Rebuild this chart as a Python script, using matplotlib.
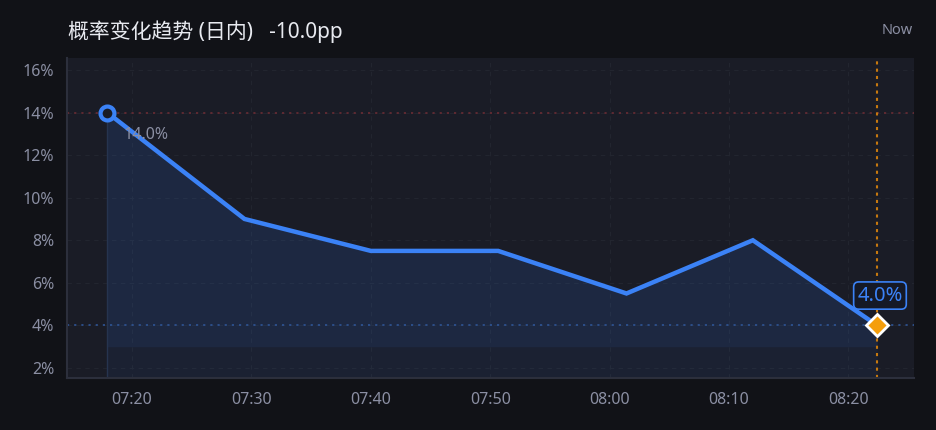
import matplotlib
matplotlib.use("Agg")
import matplotlib.pyplot as plt
from matplotlib.ticker import FixedLocator, FuncFormatter

plt.rcParams["font.family"] = ["Noto Sans", "Noto Sans CJK SC", "DejaVu Sans"]

# data
TIMES = ["07:17:55", "07:29:25", "07:40:00", "07:50:40", "08:01:25", "08:12:00", "08:22:25"]
PROB = [14.0, 9.0, 7.5, 7.5, 5.5, 8.0, 4.0]
X_TICKS = ["07:20", "07:30", "07:40", "07:50", "08:00", "08:10", "08:20"]
Y_TICKS = [2, 4, 6, 8, 10, 12, 14, 16]
TITLE = "概率变化趋势 (日内)   -10.0pp"

FIG_BG = "#111217"
AX_BG = "#1a1c26"
BLUE = "#3b82f6"
ORANGE = "#f59e0b"
MUTED = "#8b8fa3"


def to_min(s):
    parts = [int(p) for p in s.split(":")]
    while len(parts) < 3:
        parts.append(0)
    return parts[0] * 60 + parts[1] + parts[2] / 60.0


x = [to_min(t) for t in TIMES]
xt = [to_min(t) for t in X_TICKS]

fig = plt.figure(figsize=(9.36, 4.3), dpi=100, facecolor=FIG_BG)
ax = fig.add_axes([67 / 936, 52 / 430, 847 / 936, 320 / 430])
ax.set_facecolor(AX_BG)

ymin, ymax = 1.53, 16.56
ax.set_xlim(to_min("07:14:33"), to_min("08:25:30"))
ax.set_ylim(ymin, ymax)

# grid
for v in Y_TICKS:
    ax.axhline(v, color="#22252f", lw=0.8, ls=(0, (4, 4)), zorder=0)
for v in xt:
    ax.axvline(v, color="#22252f", lw=0.8, ls=(0, (4, 4)), zorder=0)

# area under the line
ax.fill_between(x, PROB, ymin, color=BLUE, alpha=0.06, lw=0, zorder=1)
ax.fill_between(x, PROB, 3.0, color=BLUE, alpha=0.08, lw=0, zorder=1)
ax.plot([x[0], x[0]], [ymin, PROB[0]], color="#26344f", lw=1, zorder=1)

# reference lines
ax.axhline(PROB[0], color="#6a2c34", lw=1.2, ls=(0, (1.3, 3)), zorder=2)
ax.axhline(PROB[-1], color="#2f5596", lw=1.2, ls=(0, (1.3, 3)), zorder=2)
ax.axvline(x[-1], color="#c7790f", lw=1.5, ls=(0, (1.5, 2)), zorder=2)

ax.plot(x, PROB, color=BLUE, lw=3.2, solid_joinstyle="miter", zorder=3)
ax.plot(x[0], PROB[0], "o", ms=10, mfc=AX_BG, mec=BLUE, mew=3, zorder=4)
ax.plot(x[-1], PROB[-1], "D", ms=11, mfc=ORANGE, mec="white", mew=2, zorder=5)

ax.annotate(f"{PROB[0]:.1f}%", (x[0], PROB[0]), xytext=(12, -16),
            textcoords="offset points", color=MUTED, fontsize=11.5,
            ha="left", va="center", zorder=3)
ax.annotate(f"{PROB[-1]:.1f}%", (x[-1], PROB[-1]), xytext=(2, 21.5),
            textcoords="offset points", color=BLUE, fontsize=14.5,
            ha="center", va="center", zorder=6,
            bbox=dict(boxstyle="round,pad=0.18,rounding_size=0.25",
                      fc="#151926", ec=BLUE, lw=1.2))

ax.xaxis.set_major_locator(FixedLocator(xt))
ax.xaxis.set_major_formatter(FuncFormatter(lambda v, p: f"{int(round(v)) // 60:02d}:{int(round(v)) % 60:02d}"))
ax.set_yticks(Y_TICKS)
ax.yaxis.set_major_formatter(FuncFormatter(lambda v, p: f"{v:.0f}%"))
ax.tick_params(colors=MUTED, labelsize=11.5, length=0)
ax.tick_params(axis="y", pad=9)
ax.tick_params(axis="x", pad=10)

for side in ["top", "right"]:
    ax.spines[side].set_visible(False)
for side in ["left", "bottom"]:
    ax.spines[side].set_color("#2c2f3c")
    ax.spines[side].set_linewidth(1.5)

fig.text(68 / 936, 1 - 32 / 430, TITLE, color="#e8eaf0", fontsize=15,
         ha="left", va="center")
fig.text(913 / 936, 1 - 30 / 430, "Now", color=MUTED, fontsize=10.5,
         ha="right", va="center")

fig.savefig("out.png", dpi=100, facecolor=FIG_BG)
